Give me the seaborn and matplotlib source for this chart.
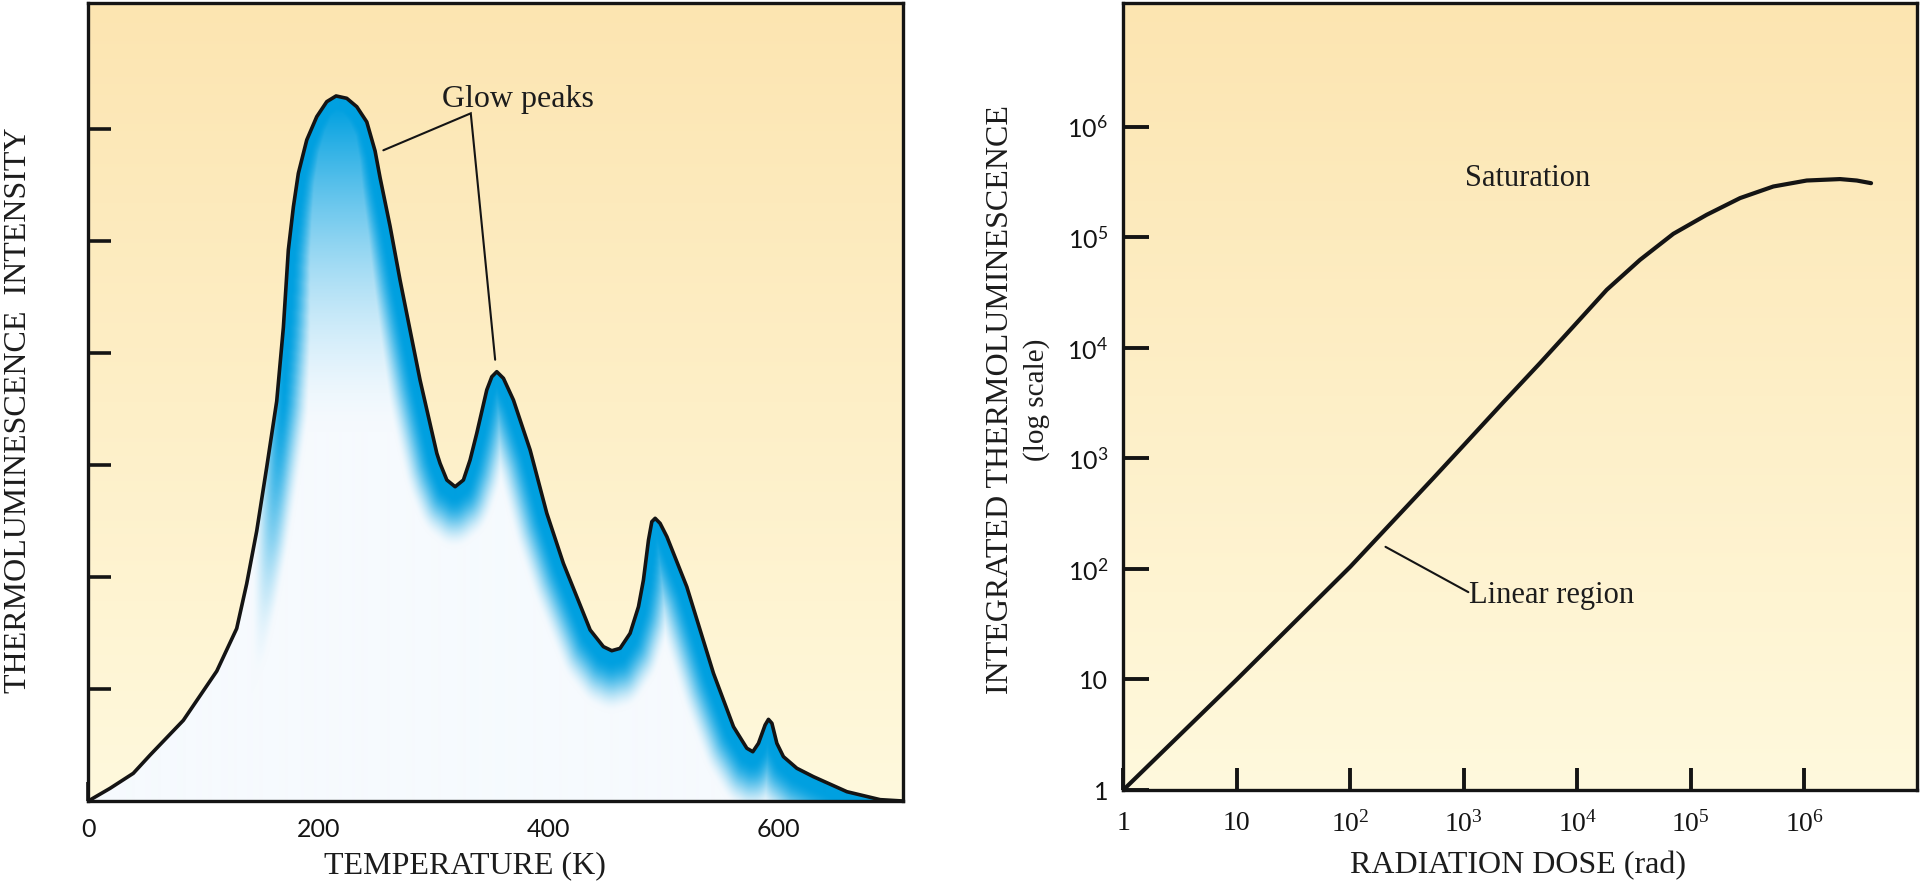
import numpy as np
import matplotlib
matplotlib.use("Agg")
import matplotlib.pyplot as plt
from matplotlib.ticker import NullLocator
import seaborn as sns

# ---------------- data ----------------
temperature_K = [0, 18.9, 39.1, 53.7, 82.6, 111.7, 129.0, 137.7, 146.4, 155.1,
                 163.8, 169.6, 173.9, 178.3, 182.6, 189.9, 198.6, 207.3, 215.4, 224.7,
                 233.4, 242.1, 249.3, 253.7, 262.3, 271.0, 279.7, 288.4, 303.0, 305.8,
                 311.7, 318.9, 326.1, 331.9, 337.7, 346.4, 350.8, 355.1, 360.9, 369.6,
                 384.1, 398.6, 413.0, 436.3, 447.8, 455.1, 462.3, 471.0, 478.3, 482.6,
                 487.0, 489.9, 492.8, 497.1, 503.0, 520.3, 543.5, 560.9, 572.5, 577.7,
                 582.6, 588.4, 591.3, 594.3, 598.6, 604.3, 616.0, 630.4, 659.5, 688.4, 708.0]
intensity = [0, 0.113, 0.247, 0.41, 0.72, 1.16, 1.54, 1.94, 2.41, 2.98,
             3.57, 4.23, 4.92, 5.306, 5.604, 5.902, 6.110, 6.244, 6.295, 6.274,
             6.199, 6.063, 5.804, 5.563, 5.134, 4.652, 4.205, 3.759, 3.104, 3.015,
             2.866, 2.806, 2.866, 3.045, 3.283, 3.670, 3.788, 3.833, 3.774, 3.580,
             3.134, 2.569, 2.122, 1.527, 1.378, 1.342, 1.363, 1.497, 1.735, 1.973,
             2.330, 2.494, 2.524, 2.479, 2.360, 1.913, 1.140, 0.663, 0.471, 0.440,
             0.515, 0.679, 0.729, 0.694, 0.515, 0.396, 0.292, 0.217, 0.083, 0.012, 0.0]
temp_ticks = [0, 200, 400, 600]
temp_tick_labels = ["0", "200", "400", "600"]
intensity_ticks = [1, 2, 3, 4, 5, 6]

dose_rad = [1, 10, 100, 537, 1000, 2239, 4688, 9226, 18155, 35645, 70150, 138000,
            271600, 533300, 1050000, 2065000, 2897000, 3873000]
integrated_tl = [1, 10, 104.7, 660.7, 1318, 3236, 7278, 15600, 33500, 62520, 107650,
                 159960, 226500, 288400, 326600, 336500, 326600, 309000]
log_ticks = [1, 1e1, 1e2, 1e3, 1e4, 1e5, 1e6]
log_tick_labels = ["1", "10", r"$\mathregular{10^{2}}$", r"$\mathregular{10^{3}}$",
                   r"$\mathregular{10^{4}}$", r"$\mathregular{10^{5}}$",
                   r"$\mathregular{10^{6}}$"]

# ---------------- style ----------------
sns.set_theme(style="ticks")
plt.rcParams["font.family"] = ["Liberation Serif", "DejaVu Serif"]
plt.rcParams["text.color"] = "#1c1c1c"
plt.rcParams["axes.labelcolor"] = "#1c1c1c"

INK = "#141414"
FIG_W, FIG_H = 1920, 885
fig = plt.figure(figsize=(FIG_W / 100, FIG_H / 100), dpi=100)
fig.patch.set_facecolor("white")


def rect(x0, y0, x1, y1):
    return [x0 / FIG_W, 1 - y1 / FIG_H, (x1 - x0) / FIG_W, (y1 - y0) / FIG_H]


def add_background(r):
    bg = fig.add_axes(r, zorder=0)
    g = np.linspace(0, 1, 256)[:, None, None]
    top = np.array([252, 229, 177]) / 255.0
    bot = np.array([255, 249, 221]) / 255.0
    img = top * (1 - g) + bot * g
    bg.imshow(img, aspect="auto", extent=[0, 1, 0, 1], origin="upper",
              interpolation="bilinear")
    bg.set_axis_off()


def style_spines(ax, lw):
    for s in ax.spines.values():
        s.set_visible(True)
        s.set_linewidth(lw)
        s.set_color(INK)
        s.set_zorder(5)


def smoothstep(e0, e1, x):
    t = np.clip((x - e0) / (e1 - e0), 0, 1)
    return t * t * (3 - 2 * t)


# =============== LEFT PANEL ===============
L_rect = rect(88.3, 3, 902.7, 801)
add_background(L_rect)
ax1 = fig.add_axes(L_rect, zorder=1)
ax1.patch.set_visible(False)

xmax, ymax = 708.0, 7.125

# glow gradient under the curve (rendering of the fill only)
Wpx, Hpx = 814, 798
T_grid = (np.arange(Wpx) + 0.5) / Wpx * xmax
cy = np.interp(T_grid, temperature_K, intensity) * Hpx / ymax
yy = (np.arange(Hpx) + 0.5)[:, None]
R = 60
HX = 1.8  # horizontal distances count more -> thinner band on steep flanks
pad = np.concatenate([np.full(R, cy[0]), cy, np.full(R + 1, cy[-1])])
dmin2 = np.full((Hpx, Wpx), np.inf)
for k in range(-R, R + 1):
    a0 = pad[R + k: R + k + Wpx]
    a1 = pad[R + k + 1: R + k + 1 + Wpx]
    lo = np.minimum(a0, a1)[None, :]
    hi = np.maximum(a0, a1)[None, :]
    dy = np.maximum(0, np.maximum(lo - yy, yy - hi))
    dmin2 = np.minimum(dmin2, (HX * k) ** 2 + dy * dy)
dist = np.sqrt(dmin2)

edge = 1 - smoothstep(10, 62, dist)
side = smoothstep(142, 172, T_grid)[None, :]
I_grid = yy * ymax / Hpx
inner = np.clip((I_grid - 3.3) / 2.9, 0, 1) ** 1.6
alpha = np.maximum(edge * side, inner)
blue = np.array([0, 160, 224]) / 255.0
base = np.array([246, 250, 254]) / 255.0
rgb = base * (1 - alpha[..., None]) + blue * alpha[..., None]
im = ax1.imshow(rgb, extent=[0, xmax, 0, ymax], origin="lower", aspect="auto",
                interpolation="bilinear", zorder=1)
poly = ax1.fill_between(temperature_K, intensity, 0, facecolor="none",
                        edgecolor="none")
im.set_clip_path(poly.get_paths()[0], transform=ax1.transData)

sns.lineplot(x=temperature_K, y=intensity, ax=ax1, color=INK, linewidth=2.6,
             zorder=3, legend=False)
ax1.lines[-1].set_solid_joinstyle("round")
ax1.set_xlim(0, xmax)
ax1.set_ylim(0, ymax)

ax1.set_xticks(temp_ticks, temp_tick_labels)
ax1.set_yticks(intensity_ticks)
ax1.set_yticklabels([])
ax1.tick_params(axis="x", direction="in", length=13.7, width=2.6, pad=12,
                labelsize=18, labelfontfamily="Lato", colors=INK)
ax1.tick_params(axis="y", direction="in", length=16.5, width=2.6, colors=INK)
style_spines(ax1, 2.4)

ax1.set_xlabel("TEMPERATURE (K)", fontsize=23)
ax1.xaxis.set_label_coords(0.4626, -0.0815)
ax1.xaxis.label.set_va("center")
ax1.set_ylabel("THERMOLUMINESCENCE  INTENSITY", fontsize=23)
ax1.yaxis.set_label_coords(-0.0863, 0.49)
ax1.yaxis.label.set_va("center")

ax1.text(307.3, 6.20, "Glow peaks", fontsize=23, ha="left", va="baseline",
         zorder=4)
ax1.plot([256.5, 332.5, 353.7], [5.81, 6.14, 3.94], color=INK, lw=1.5,
         zorder=4, solid_joinstyle="miter")

# =============== RIGHT PANEL ===============
R_rect = rect(1123.3, 3, 1916.7, 790)
add_background(R_rect)
ax2 = fig.add_axes(R_rect, zorder=1)
ax2.patch.set_visible(False)

sns.lineplot(x=dose_rad, y=integrated_tl, ax=ax2, color=INK, linewidth=3.0,
             zorder=3, legend=False)
ax2.lines[-1].set_solid_joinstyle("round")
ax2.set_xscale("log")
ax2.set_yscale("log")
ax2.set_xlim(1, 10 ** 6.99)
ax2.set_ylim(1, 10 ** 7.12)
ax2.set_xticks(log_ticks, log_tick_labels)
ax2.set_yticks(log_ticks, log_tick_labels)
ax2.xaxis.set_minor_locator(NullLocator())
ax2.yaxis.set_minor_locator(NullLocator())
ax2.tick_params(axis="x", direction="in", length=15.6, width=2.8, pad=15,
                labelsize=20, colors=INK)
ax2.tick_params(axis="y", direction="in", length=18.7, width=2.8, pad=11,
                labelsize=18, labelfontfamily="Lato", colors=INK)
style_spines(ax2, 2.4)

ax2.set_xlabel("RADIATION DOSE (rad)", fontsize=23)
ax2.xaxis.set_label_coords(0.498, -0.0966)
ax2.xaxis.label.set_va("center")
ax2.set_ylabel("INTEGRATED THERMOLUMINESCENCE", fontsize=23)
ax2.yaxis.set_label_coords(-0.1554, 0.4968)
ax2.yaxis.label.set_va("center")
ax2.text(-0.1092, 0.4955, "(log scale)", transform=ax2.transAxes, rotation=90,
         ha="center", va="center", fontsize=21)

ax2.text(10 ** 3.01, 10 ** 5.46, "Saturation", fontsize=22, ha="left",
         va="baseline", zorder=4)
ax2.text(10 ** 3.05, 10 ** 1.69, "Linear region", fontsize=22, ha="left",
         va="baseline", zorder=4)
ax2.plot([10 ** 2.31, 10 ** 3.04], [10 ** 2.20, 10 ** 1.79], color=INK, lw=1.5,
         zorder=4)

fig.savefig("out.png", dpi=100)
